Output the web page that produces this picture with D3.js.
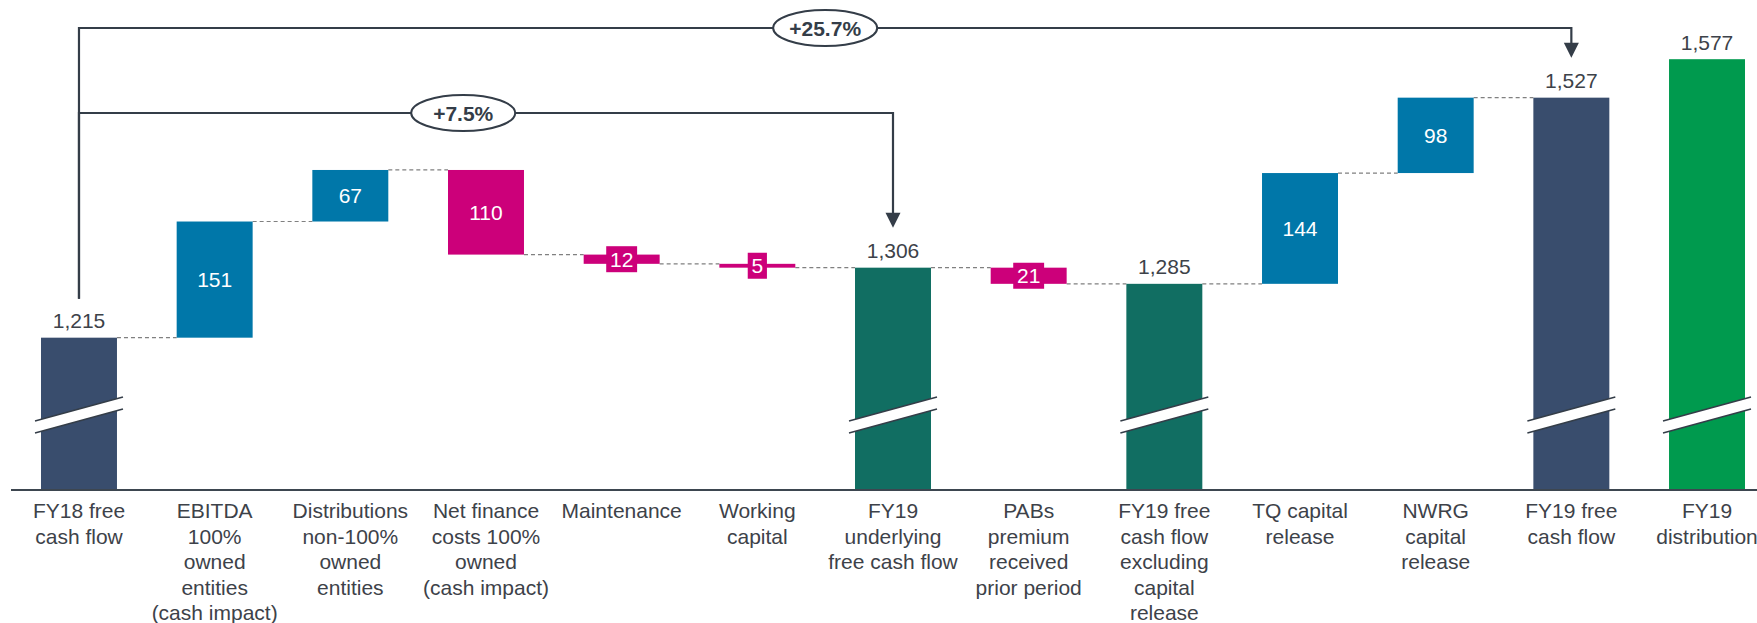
<!DOCTYPE html>
<html>
<head>
<meta charset="utf-8">
<script src="https://cdn.jsdelivr.net/npm/d3@7"></script>
<style>
body{margin:0;background:#fff;}
svg{display:block;font-family:"Liberation Sans",Arial,sans-serif;}
</style>
</head>
<body>
<div id="chart"></div>
<script>
// category labels, one array of lines per bar
var labels = [
    ["FY18 free","cash flow"],
    ["EBITDA","100%","owned","entities","(cash impact)"],
    ["Distributions","non-100%","owned","entities"],
    ["Net finance","costs 100%","owned","(cash impact)"],
    ["Maintenance"],
    ["Working","capital"],
    ["FY19","underlying","free cash flow"],
    ["PABs","premium","received","prior period"],
    ["FY19 free","cash flow","excluding","capital","release"],
    ["TQ capital","release"],
    ["NWRG","capital","release"],
    ["FY19 free","cash flow"],
    ["FY19","distribution"]
];

// totals are absolute, the rest are changes
var values = [1215, 151, 67, -110, -12, -5, 1306, -21, 1285, 144, 98, 1527, 1577];
var kinds = ["total","delta","delta","delta","delta","delta","sub","delta","sub","delta","delta","total","dist"];

// growth brackets: from bar, to bar, text
var bracketFrom = [0, 0];
var bracketTo = [6, 11];
var bracketText = ["+7.5%", "+25.7%"];

var colors = {total:"#394d6d", sub:"#116e62", dist:"#009a4e", up:"#0077a9", down:"#cc007a"};
var ink = "#343d48";
var textCol = "#3d4249";

var screen = {width:1757, height:623};
var baseY = 490;

var svg = d3.select("#chart")
    .append("svg")
    .attr("width", screen.width)
    .attr("height", screen.height);

var xScale = d3.scaleBand()
    .domain(d3.range(values.length))
    .range([11.15, 1774.85])
    .paddingInner(0.44)
    .paddingOuter(0.22);

// broken axis: bars start at ~1017
var yScale = d3.scaleLinear()
    .domain([1017, 1600])
    .range([baseY, 41.5]);

var bw = xScale.bandwidth();
var cx = function(i){ return xScale(i) + bw/2; };

// work out bar bottoms/tops
var bars = [];
var running = 0;
values.forEach(function(v, i)
{
    if(kinds[i] == "delta")
    {
        var start = running;
        running = running + v;
        bars.push({i:i, lo:Math.min(start, running), hi:Math.max(start, running), v:v, kind:kinds[i], level:running});
    }
    else
    {
        running = v;
        bars.push({i:i, lo:1017, hi:v, v:v, kind:kinds[i], level:v});
    }
});

var fillOf = function(b)
{
    if(b.kind == "delta") { return b.v > 0 ? colors.up : colors.down; }
    return colors[b.kind];
};

// connectors
var conn = svg.append("g");
bars.forEach(function(b, k)
{
    if(k == bars.length - 1 || bars[k+1].kind == "dist") { return; }
    conn.append("line")
        .attr("x1", xScale(k) + bw)
        .attr("x2", xScale(k+1))
        .attr("y1", yScale(b.level))
        .attr("y2", yScale(b.level))
        .attr("stroke", "#808080")
        .attr("stroke-width", 1.2)
        .attr("stroke-dasharray", "4,3");
});

// bars
svg.append("g")
    .selectAll("rect")
    .data(bars)
    .enter()
    .append("rect")
    .attr("x", function(b){ return xScale(b.i); })
    .attr("width", bw)
    .attr("y", function(b){ return yScale(b.hi); })
    .attr("height", function(b){ return yScale(b.lo) - yScale(b.hi); })
    .attr("fill", fillOf);

// break marks on the totals
var brk = svg.append("g");
bars.filter(function(b){ return b.kind != "delta"; }).forEach(function(b)
{
    var x0 = xScale(b.i) - 6, x1 = xScale(b.i) + bw + 6;
    brk.append("polygon")
        .attr("points", [[x0,421],[x1,397],[x1,409],[x0,433]].join(" "))
        .attr("fill", "#fff");
    brk.append("line").attr("x1",x0).attr("y1",421).attr("x2",x1).attr("y2",397)
        .attr("stroke", ink).attr("stroke-width", 1.5);
    brk.append("line").attr("x1",x0).attr("y1",433).attr("x2",x1).attr("y2",409)
        .attr("stroke", ink).attr("stroke-width", 1.5);
});

// value labels
var fmt = d3.format(",");
var vl = svg.append("g").attr("font-size", "21px").attr("text-anchor", "middle");
bars.forEach(function(b)
{
    if(b.kind != "delta")
    {
        vl.append("text")
            .attr("x", cx(b.i))
            .attr("y", yScale(b.hi) - 9.5)
            .attr("fill", textCol)
            .text(fmt(b.v));
        return;
    }
    var mid = (yScale(b.lo) + yScale(b.hi)) / 2;
    var txt = String(Math.abs(b.v));
    var h = yScale(b.lo) - yScale(b.hi);
    if(h < 26)
    {
        var tw = txt.length * 11.7 + 7.5;
        vl.append("rect")
            .attr("x", cx(b.i) - tw/2)
            .attr("y", mid - 13)
            .attr("width", tw)
            .attr("height", 26)
            .attr("fill", fillOf(b));
    }
    vl.append("text")
        .attr("x", cx(b.i))
        .attr("y", mid + 7.5)
        .attr("fill", "#fff")
        .text(txt);
});

// axis line
svg.append("line")
    .attr("x1", 11).attr("x2", screen.width)
    .attr("y1", baseY).attr("y2", baseY)
    .attr("stroke", "#3d4650")
    .attr("stroke-width", 2);

// category labels
var cl = svg.append("g").attr("font-size", "21px").attr("text-anchor", "middle").attr("fill", textCol);
labels.forEach(function(lines, i)
{
    var t = cl.append("text").attr("x", cx(i)).attr("y", 518);
    lines.forEach(function(line, j)
    {
        t.append("tspan")
            .attr("x", cx(i))
            .attr("dy", j == 0 ? 0 : 25.5)
            .text(line);
    });
});

// growth brackets
var bracketY = [113, 28];
var bracketPos = [0.472, 0.5];
var br = svg.append("g");
bracketFrom.forEach(function(f, k)
{
    var xa = cx(f), xb = cx(bracketTo[k]);
    var yb = bracketY[k];
    var tip = yScale(values[bracketTo[k]]) - 40;
    br.append("path")
        .attr("d", "M" + xa + "," + (yScale(values[f]) - 39) + "V" + yb + "H" + xb + "V" + (tip - 14))
        .attr("fill", "none")
        .attr("stroke", ink)
        .attr("stroke-width", 2.2);
    br.append("path")
        .attr("d", "M" + (xb - 7.5) + "," + (tip - 15) + "L" + (xb + 7.5) + "," + (tip - 15) + "L" + xb + "," + tip + "Z")
        .attr("fill", ink);
    var ex = xa + (xb - xa) * bracketPos[k];
    br.append("ellipse")
        .attr("cx", ex).attr("cy", yb)
        .attr("rx", 52).attr("ry", 18)
        .attr("fill", "#fff")
        .attr("stroke", ink)
        .attr("stroke-width", 2);
    br.append("text")
        .attr("x", ex).attr("y", yb + 7.5)
        .attr("text-anchor", "middle")
        .attr("font-size", "21px")
        .attr("font-weight", "bold")
        .attr("fill", ink)
        .text(bracketText[k]);
});
</script>
</body>
</html>
